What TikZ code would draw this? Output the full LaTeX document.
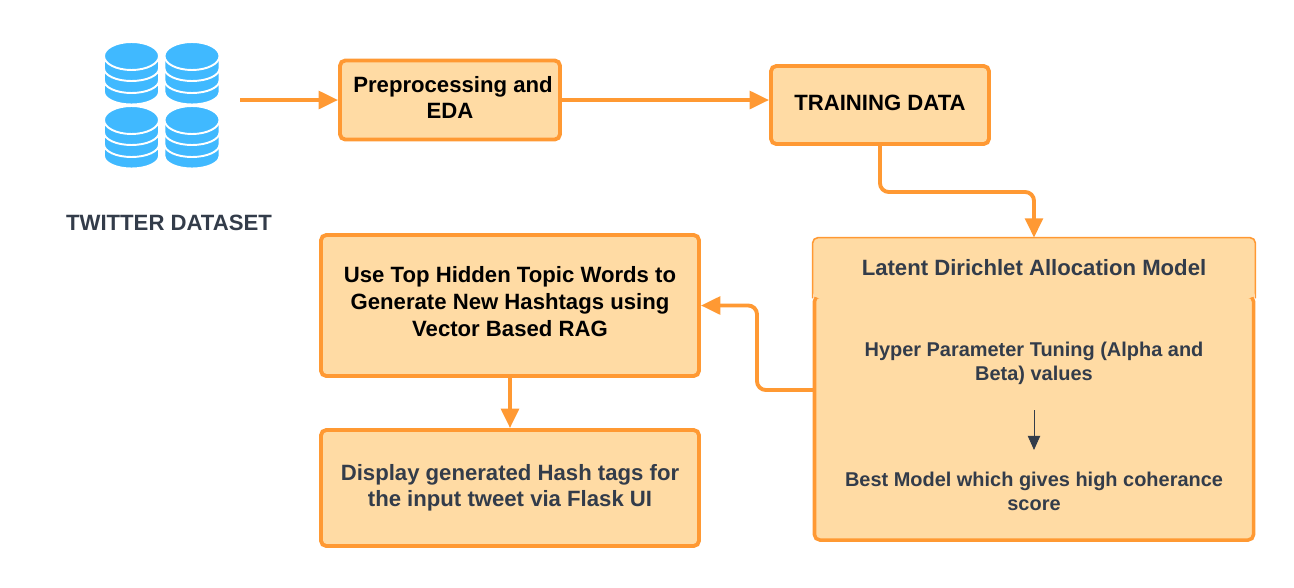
\documentclass[tikz,border=0pt]{standalone}
\usepackage{fontspec}
\setmainfont{Liberation Sans}
\usetikzlibrary{arrows.meta,positioning}
\definecolor{boxorange}{HTML}{FF9933}
\definecolor{boxfill}{HTML}{FFDBA4}
\definecolor{darktext}{HTML}{333C4A}
\definecolor{dbblue}{HTML}{40B9FF}
\tikzstyle{orangeblock}=[rectangle, rounded corners=3pt, draw=boxorange, fill=boxfill, align=center, line width=2.2pt, font=\fontsize{12.6}{15.2}\selectfont\bfseries]
\tikzstyle{headblock}=[rectangle, rounded corners=3pt, fill=boxfill, font=\fontsize{12.6}{15.2}\selectfont\bfseries, text=darktext]
\tikzstyle{plaintext}=[align=center, font=\fontsize{11.35}{13.7}\selectfont\bfseries, text=darktext]
\tikzstyle{flowline}=[-{Triangle[length=11pt,width=10pt]}, draw=boxorange, line width=2.2pt, rounded corners=5pt]
\tikzset{dbstack/.pic={
  \foreach \yy in {0.76,0.53,0.29}
   \draw[fill=dbblue, draw=white, line width=1.1pt] (-0.55,-\yy-0.22) -- (-0.55,-\yy) arc[start angle=180, end angle=0, x radius=0.55, y radius=0.25] -- (0.55,-\yy-0.22) arc[start angle=0, end angle=-180, x radius=0.55, y radius=0.25] -- cycle;
  \draw[fill=dbblue, draw=white, line width=1.1pt] (0,-0.26) ellipse[x radius=0.55, y radius=0.28];
}}

\begin{document}
\begin{tikzpicture}

\useasboundingbox (0,0) rectangle (25.88,-11.74);

\pic at (2.63,-0.86) {dbstack};
\pic at (3.84,-0.86) {dbstack};
\pic at (2.63,-2.14) {dbstack};
\pic at (3.84,-2.14) {dbstack};
\node[plaintext, font=\fontsize{12.6}{15}\selectfont\bfseries] (dataset) at (3.38,-4.45) {TWITTER DATASET};
\coordinate (src) at (4.8,-2);

\node[orangeblock, inner xsep=1pt, minimum width=4.40cm, minimum height=1.58cm, text depth=3pt] (prep) at (9,-2) {\hspace*{3.4pt}Preprocessing and\\EDA};
\node[orangeblock, minimum width=4.36cm, minimum height=1.56cm] (train) at (17.6,-2.1) {\raisebox{2.8pt}{TRAINING DATA}};
\node[orangeblock, minimum width=7.56cm, minimum height=2.82cm, text depth=4.5pt] (topic) at (10.2,-6.11) {Use Top Hidden Topic Words to\\Generate New Hashtags using\\Vector Based RAG};
\node[orangeblock, minimum width=7.56cm, minimum height=2.32cm, text=darktext, font=\fontsize{12.6}{14.9}\selectfont\bfseries] (display) at (10.2,-9.76) {Display generated Hash tags for\\the input tweet via Flask UI};

\node[orangeblock, line width=2pt, minimum width=8.78cm, minimum height=4.88cm] (ldabody) at (20.68,-8.36) {};
\node[headblock, minimum width=8.84cm, minimum height=1.2cm] (ldahead) at (20.68,-5.36) {Latent Dirichlet Allocation Model};
\node[plaintext] (tuning) at (20.68,-7.26) {Hyper Parameter Tuning (Alpha and\\Beta) values};
\node[plaintext] (best) at (20.68,-9.82) {Best Model which gives high coherance\\score};
\coordinate (arrowtop) at (20.68,-8.2);
\coordinate (arrowend) at (20.68,-9);
\coordinate (ldaout) at (16.26,-7.8);
\coordinate (ldabend) at (15.14,-7.8);

\draw[boxorange, line width=0.9pt, rounded corners=3pt] (ldahead.south west) |- (ldahead.north) -| (ldahead.south east);
\draw[flowline] (src) -- (prep.west);
\draw[flowline] (prep.east) -- (train.west |- prep.east);
\draw[flowline] (train.south) |- (19,-3.84) -| (ldahead.north);
\draw[flowline] (ldaout) -- (ldabend) |- (topic.east);
\draw[flowline] (topic.south) -- (display.north);
\draw[-{Triangle[length=8pt,width=7pt]}, draw=darktext, line width=0.5pt] (arrowtop) -- (arrowend);

\end{tikzpicture}
\end{document}
